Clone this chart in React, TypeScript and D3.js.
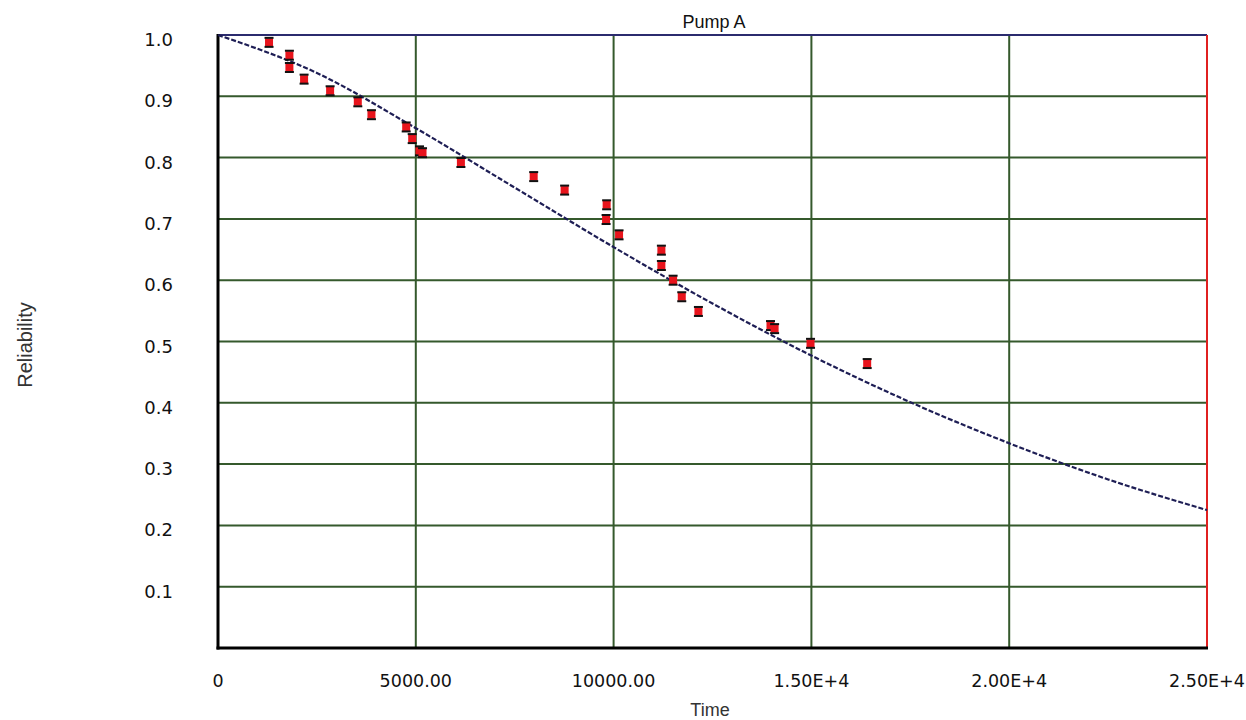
import React from "react";
import * as d3 from "d3";

const title = "Pump A";
const xLabel = "Time";
const yLabel = "Reliability";

const xTicks = [0, 5000, 10000, 15000, 20000, 25000];
const xTickLabels = ["0", "5000.00", "10000.00", "1.50E+4", "2.00E+4", "2.50E+4"];
const yTicks = [0.1, 0.2, 0.3, 0.4, 0.5, 0.6, 0.7, 0.8, 0.9, 1.0];
const yTickLabels = ["0.1", "0.2", "0.3", "0.4", "0.5", "0.6", "0.7", "0.8", "0.9", "1.0"];

// observed data points (time, reliability)
const pointTimes = [
  1290, 1805, 1805, 2176, 2834, 3534, 3879, 4757, 4909, 5094, 5170, 6140,
  7980, 8762, 9824, 9810, 10138, 11208, 11208, 11504, 11723, 12144, 13966, 14070,
  14978, 16410,
];
const pointValues = [
  0.988, 0.967, 0.947, 0.928, 0.909, 0.891, 0.870, 0.850, 0.831, 0.811, 0.808, 0.792,
  0.769, 0.747, 0.723, 0.699, 0.674, 0.649, 0.624, 0.600, 0.573, 0.549, 0.526, 0.521,
  0.497, 0.464,
];

// fitted reliability curve
const curveTimes = [0, 2500, 5000, 7500, 10000, 12500, 15000, 17500, 20000, 22500, 25000];
const curveValues = [1.0, 0.938, 0.848, 0.751, 0.654, 0.562, 0.477, 0.401, 0.334, 0.275, 0.225];

const W = 1246;
const H = 720;
const L = 218, R = 1207, T = 35, B = 648;

export default function App() {
  const x = d3.scaleLinear().domain([0, 25000]).range([L, R]);
  const y = d3.scaleLinear().domain([0, 1]).range([B, T]);
  const curve = d3
    .line<number>()
    .x((_, i) => x(curveTimes[i]))
    .y((d) => y(d))
    .curve(d3.curveMonotoneX)(curveValues) as string;

  const grid = "#35592c";
  const tickFont = "'DejaVu Sans', sans-serif";
  const labelFont = "'Liberation Sans', Arial, sans-serif";

  return (
    <svg
      width={W}
      height={H}
      style={{ position: "absolute", left: 0, top: 0, background: "#fff" }}
    >
      <rect x={0} y={0} width={W} height={H} fill="#fff" />
      {yTicks
        .filter((v) => v < 1)
        .map((v) => (
          <line key={"hy" + v} x1={L} x2={R} y1={y(v)} y2={y(v)} stroke={grid} strokeWidth={2} />
        ))}
      {xTicks
        .filter((v) => v > 0 && v < 25000)
        .map((v) => (
          <line key={"vx" + v} x1={x(v)} x2={x(v)} y1={T} y2={B} stroke={grid} strokeWidth={2} />
        ))}
      <line x1={L} x2={R} y1={y(1)} y2={y(1)} stroke="#2b2b6e" strokeWidth={2} />
      <line x1={R} x2={R} y1={T} y2={B} stroke="#e02020" strokeWidth={2} />
      <line x1={L} x2={L} y1={T - 1} y2={B + 1.5} stroke="#000" strokeWidth={3} />
      <line x1={L - 1.5} x2={R + 1} y1={B} y2={B} stroke="#000" strokeWidth={3} />

      <path d={curve} fill="none" stroke="#1e1e55" strokeWidth={2.2} strokeDasharray="5,2" />

      {pointValues.map((v, i) => {
        const cx = x(pointTimes[i]);
        const cy = y(v);
        return (
          <g key={"p" + i}>
            <rect x={cx - 4} y={cy - 4} width={8} height={8} fill="#e8141c" />
            <rect x={cx - 4.5} y={cy - 5.5} width={9} height={2} fill="#111" />
            <rect x={cx - 4.5} y={cy + 3.5} width={9} height={2} fill="#111" />
          </g>
        );
      })}

      <text x={714} y={28} textAnchor="middle" fontFamily={labelFont} fontSize={18} fill="#111">
        {title}
      </text>

      {yTicks.map((v, i) => (
        <text
          key={"yl" + v}
          x={173}
          y={y(v) + 11}
          textAnchor="end"
          fontFamily={tickFont}
          fontSize={18}
          fill="#111"
        >
          {yTickLabels[i]}
        </text>
      ))}

      {xTicks.map((v, i) => (
        <text
          key={"xl" + v}
          x={x(v)}
          y={687}
          textAnchor="middle"
          fontFamily={tickFont}
          fontSize={17.5}
          fill="#111"
        >
          {xTickLabels[i]}
        </text>
      ))}

      <text x={710} y={716} textAnchor="middle" fontFamily={labelFont} fontSize={18} fill="#333">
        {xLabel}
      </text>
      <text
        transform={`translate(32,345) rotate(-90)`}
        textAnchor="middle"
        fontFamily={labelFont}
        fontSize={20}
        fill="#333"
      >
        {yLabel}
      </text>
    </svg>
  );
}
